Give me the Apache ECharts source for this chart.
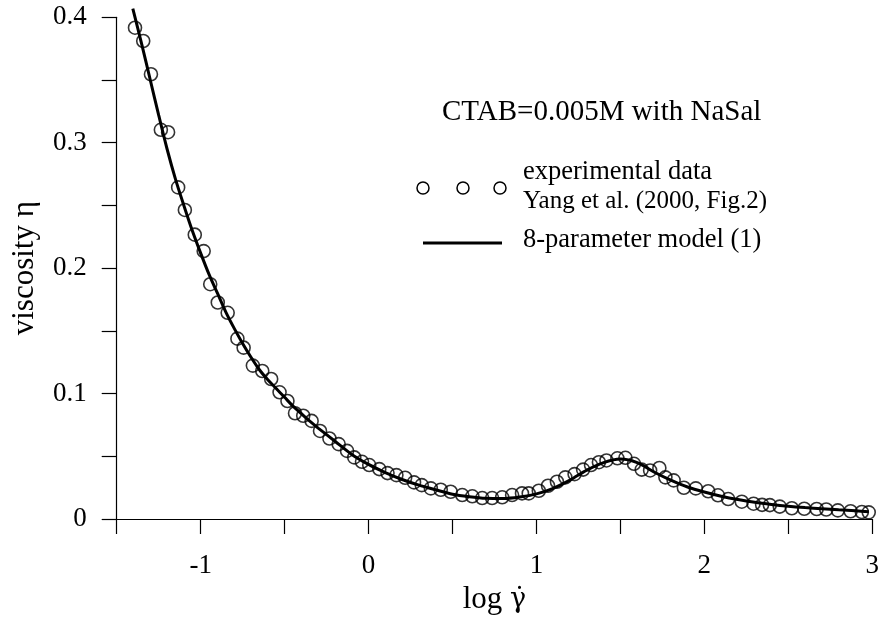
<!DOCTYPE html>
<html>
<head>
<meta charset="utf-8">
<script src="https://cdn.jsdelivr.net/npm/echarts@6/dist/echarts.min.js"></script>
<style>
html,body{margin:0;padding:0;background:#fff;}
#chart{width:882px;height:620px;}
</style>
</head>
<body>
<div id="chart"></div>
<script>
// experimental data (Yang et al. 2000, Fig.2)
var expX = [-1.391,-1.342,-1.296,-1.237,-1.194,-1.134,-1.094,-1.035,-0.982,-0.943,-0.898,-0.839,-0.781,-0.744,-0.689,-0.633,-0.580,-0.530,-0.483,-0.438,-0.389,-0.339,-0.289,-0.233,-0.178,-0.128,-0.085,-0.039,0.004,0.064,0.113,0.166,0.218,0.271,0.317,0.371,0.430,0.489,0.558,0.618,0.677,0.736,0.796,0.855,0.914,0.954,1.014,1.069,1.122,1.172,1.227,1.278,1.325,1.372,1.417,1.482,1.530,1.581,1.627,1.677,1.732,1.768,1.817,1.878,1.949,2.023,2.081,2.142,2.223,2.293,2.344,2.390,2.449,2.521,2.595,2.669,2.726,2.795,2.871,2.938,2.979];
var expY = [0.3917,0.3811,0.3546,0.3103,0.3084,0.2644,0.2464,0.2267,0.2136,0.1872,0.1726,0.1644,0.1438,0.1366,0.1223,0.1180,0.1116,0.1010,0.0941,0.0843,0.0823,0.0782,0.0702,0.0642,0.0597,0.0543,0.0491,0.0456,0.0430,0.0398,0.0366,0.0350,0.0329,0.0292,0.0270,0.0244,0.0233,0.0217,0.0191,0.0181,0.0167,0.0167,0.0173,0.0191,0.0204,0.0204,0.0225,0.0265,0.0297,0.0332,0.0358,0.0394,0.0430,0.0453,0.0467,0.0484,0.0488,0.0440,0.0394,0.0387,0.0407,0.0332,0.0308,0.0249,0.0244,0.0221,0.0189,0.0159,0.0138,0.0122,0.0113,0.0111,0.0099,0.0086,0.0082,0.0080,0.0076,0.0069,0.0062,0.0056,0.0053];
// 8-parameter model (1)
var modelX = [-1.404,-1.35,-1.3,-1.25,-1.2,-1.15,-1.1,-1.05,-1.0,-0.95,-0.9,-0.85,-0.8,-0.75,-0.7,-0.65,-0.6,-0.55,-0.5,-0.45,-0.4,-0.35,-0.3,-0.2,-0.1,0,0.1,0.2,0.3,0.4,0.5,0.6,0.7,0.8,0.9,1.0,1.1,1.2,1.3,1.4,1.5,1.6,1.7,1.8,1.9,2.0,2.1,2.2,2.3,2.4,2.5,2.6,2.7,2.8,2.9,2.98];
var modelY = [0.407,0.378,0.350,0.322,0.295,0.271,0.250,0.230,0.212,0.195,0.180,0.165,0.152,0.140,0.129,0.119,0.111,0.104,0.097,0.090,0.084,0.078,0.0725,0.062,0.0515,0.0435,0.0370,0.0315,0.0270,0.0233,0.0198,0.0178,0.0165,0.0163,0.0175,0.020,0.0245,0.031,0.0390,0.0450,0.0478,0.0450,0.0375,0.0310,0.0255,0.0215,0.0182,0.0155,0.0133,0.0116,0.0102,0.0091,0.0082,0.0073,0.0065,0.0058];
var xTickLabels = ['-1','0','1','2','3'];
var yTickLabels = ['0','0.1','0.2','0.3','0.4'];
var titleText = 'CTAB=0.005M with NaSal';
var legendExp = ['experimental data','Yang et al. (2000, Fig.2)'];
var legendModel = '8-parameter model (1)';

var FONT = '"Liberation Serif","Times New Roman",serif';
var chart = echarts.init(document.getElementById('chart'), null, {renderer:'canvas'});

function zipXY(xs, ys){ var o=[]; for(var i=0;i<xs.length;i++){o.push([xs[i],ys[i]]);} return o; }

var lgCirY = 188;
var option = {
  animation:false,
  backgroundColor:'#fff',
  grid:{left:116.7,right:7,top:17.3,bottom:100},
  xAxis:{
    type:'value',min:-1.5,max:3,interval:0.5,
    name:'log {g|\u03B3\u0307}',nameLocation:'middle',nameGap:65,
    nameTextStyle:{fontFamily:FONT,fontSize:31,color:'#000',
      rich:{g:{fontFamily:'"DejaVu Serif",serif',fontSize:27,color:'#000'}}},
    axisLine:{onZero:false,lineStyle:{color:'#000',width:1.2}},
    axisTick:{show:true,inside:false,length:15,lineStyle:{color:'#000',width:1.2}},
    axisLabel:{margin:33,fontFamily:FONT,fontSize:27,color:'#000',
      formatter:function(v){var r=Math.round(v*2)/2; if(Math.abs(r-Math.round(r))<1e-9){var s=String(Math.round(r)); return xTickLabels.indexOf(s)>=0?s:'';} return '';}},
    splitLine:{show:false}
  },
  yAxis:{
    type:'value',min:0,max:0.4,interval:0.05,
    name:'viscosity \u03B7',nameLocation:'middle',nameGap:76,nameRotate:90,
    nameTextStyle:{fontFamily:FONT,fontSize:31,color:'#000'},
    axisLine:{onZero:false,lineStyle:{color:'#000',width:1.2}},
    axisTick:{show:true,inside:false,length:15,lineStyle:{color:'#000',width:1.2}},
    axisLabel:{margin:30,fontFamily:FONT,fontSize:27,color:'#000',
      formatter:function(v){var k=Math.round(v*20); if(k%2!==0) return ''; var idx=k/2; return yTickLabels[idx]||'';}},
    splitLine:{show:false}
  },
  series:[
    {type:'line',name:legendModel,data:zipXY(modelX,modelY),smooth:0.3,showSymbol:false,clip:false,
     lineStyle:{color:'#000',width:3},z:3},
    {type:'scatter',name:legendExp[0],data:zipXY(expX,expY),symbol:'circle',symbolSize:13,
     itemStyle:{color:'rgba(255,255,255,0)',borderColor:'#000',borderWidth:1.6},z:4}
  ],
  graphic:[
    {type:'text',left:442,top:115-17,style:{text:titleText,font:'29px '+FONT,fill:'#000'}},
    {type:'circle',shape:{cx:423,cy:lgCirY,r:6},style:{fill:'none',stroke:'#000',lineWidth:1.5}},
    {type:'circle',shape:{cx:463,cy:lgCirY,r:6},style:{fill:'none',stroke:'#000',lineWidth:1.5}},
    {type:'circle',shape:{cx:500,cy:lgCirY,r:6},style:{fill:'none',stroke:'#000',lineWidth:1.5}},
    {type:'text',left:523,top:175-16,style:{text:legendExp[0],font:'26.5px '+FONT,fill:'#000'}},
    {type:'text',left:523,top:204-15,style:{text:legendExp[1],font:'25px '+FONT,fill:'#000'}},
    {type:'line',shape:{x1:423,y1:243,x2:502,y2:243},style:{stroke:'#000',lineWidth:3}},
    {type:'text',left:523,top:243-16,style:{text:legendModel,font:'26.5px '+FONT,fill:'#000'}}
  ]
};
chart.setOption(option);
</script>
</body>
</html>
